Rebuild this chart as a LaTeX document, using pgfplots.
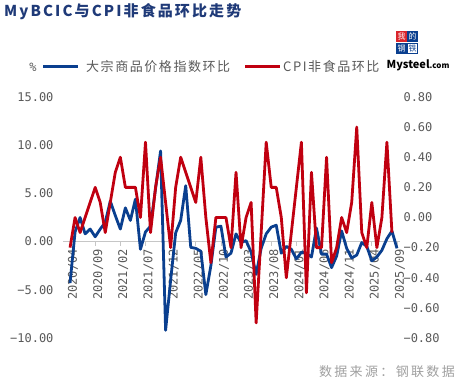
\documentclass[border=0pt]{standalone}
\usepackage{pgfplots}
\pgfplotsset{compat=1.18}
\usepackage{fontspec}
\setmainfont{Noto Sans CJK SC}
\newfontfamily\cjk{Noto Sans CJK SC}
\newfontfamily\cjkt[LetterSpace=14]{Noto Sans CJK SC}
\newfontfamily\cjkl[LetterSpace=12]{Noto Sans CJK SC}
\newfontfamily\cjks[LetterSpace=18]{Noto Sans CJK SC}
\newfontfamily\mono{DejaVu Sans Mono}
\definecolor{bl}{HTML}{0A3F8F}
\definecolor{rd}{HTML}{C00010}
\definecolor{tg}{HTML}{595959}
\definecolor{tt}{HTML}{1F3A78}
\definecolor{lr}{HTML}{D9252B}

\pgfplotstableread{
x y
0 -4.3
1 1.0
2 2.5
3 0.8
4 1.3
5 0.5
6 1.3
7 2.0
8 4.2
9 2.7
10 1.3
11 3.5
12 2.2
13 4.4
14 -0.8
15 1.0
16 1.6
17 5.5
18 9.4
19 -9.2
20 -4.0
21 0.9
22 2.2
23 5.8
24 -0.6
25 -0.7
26 -1.0
27 -5.5
28 -2.5
29 1.5
30 1.6
31 -1.6
32 -1.2
33 0.8
34 -0.1
35 0.1
36 -1.1
37 -3.4
38 -0.7
39 0.8
40 1.5
41 1.7
42 -1.2
43 -0.5
44 -0.8
45 -1.8
46 -1.1
47 -1.2
48 -1.6
49 1.4
50 -1.3
51 -1.3
52 -2.7
53 -1.5
54 1.1
55 -0.7
56 -1.7
57 -1.4
58 -0.1
59 -0.5
60 -2.0
61 -1.6
62 -0.9
63 0.3
64 1.1
65 -0.7
}\bcic

\pgfplotstableread{
x y
0 -0.2
1 0.0
2 -0.1
3 0.0
4 0.1
5 0.2
6 0.1
7 -0.1
8 0.1
9 0.3
10 0.4
11 0.2
12 0.2
13 0.2
14 0.0
15 0.5
16 -0.1
17 0.2
18 0.4
19 0.1
20 -0.2
21 0.2
22 0.4
23 0.3
24 0.2
25 0.1
26 0.4
27 0.0
28 -0.3
29 0.0
30 0.0
31 0.0
32 -0.2
33 0.3
34 -0.2
35 0.0
36 0.1
37 -0.7
38 -0.1
39 0.5
40 0.2
41 0.2
42 0.0
43 -0.4
44 -0.1
45 0.2
46 0.5
47 -0.5
48 0.3
49 -0.2
50 -0.2
51 0.4
52 -0.3
53 -0.2
54 0.0
55 -0.1
56 0.1
57 0.6
58 -0.1
59 -0.2
60 0.1
61 -0.2
62 0.0
63 0.5
64 -0.1
}\cpi

\begin{document}
\begin{tikzpicture}[x=1pt,y=1pt]

% title
\node[anchor=west, inner sep=0, text=tt, font=\cjkt\bfseries\fontsize{15}{15}\selectfont] at (4pt,373pt) {MyBCIC与CPI非食品环比走势};

% legend
\node[anchor=center, inner sep=0, text=tg, font=\mono\fontsize{12}{12}\selectfont] at (33pt,318pt) {\%};
\draw[bl, line width=3pt] (43pt,318pt) -- (78pt,318pt);
\node[anchor=west, inner sep=0, text=tg, font=\cjkl\fontsize{13}{13}\selectfont] at (86pt,318pt) {大宗商品价格指数环比};
\draw[rd, line width=3pt] (245pt,318pt) -- (280pt,318pt);
\node[anchor=west, inner sep=0, text=tg, font=\cjkl\fontsize{13}{13}\selectfont] at (283pt,318pt) {CPI非食品环比};

% logo
\fill[lr] (396pt,354pt) rectangle (407pt,343pt);
\node[inner sep=0, text=white, font=\cjk\fontsize{8}{8}\selectfont] at (401.5pt,348.5pt) {我};
\fill[bl] (407pt,354pt) rectangle (418pt,343pt);
\node[inner sep=0, text=white, font=\cjk\fontsize{8}{8}\selectfont] at (412.5pt,348.5pt) {的};
\fill[bl] (396pt,342pt) rectangle (407pt,331pt);
\node[inner sep=0, text=white, font=\cjk\fontsize{8}{8}\selectfont] at (401.5pt,336.5pt) {钢};
\draw[bl, line width=0.5pt] (407.3pt,341.7pt) rectangle (417.7pt,331.3pt);
\node[inner sep=0, text=bl, font=\cjk\fontsize{8}{8}\selectfont] at (412.5pt,336.5pt) {铁};
\node[anchor=center, inner sep=0, text=black, font=\bfseries] at (418pt,320pt) {{\fontsize{11}{11}\selectfont Mysteel}{\fontsize{8}{8}\selectfont .com}};

% source
\node[anchor=east, inner sep=0, text=gray!75, font=\cjks\fontsize{13}{13}\selectfont] at (455pt,13pt) {数据来源：钢联数据};

\begin{axis}[set layers,
  at={(63pt,47pt)}, anchor=south west, scale only axis,
  width=337pt, height=241pt,
  xmin=-1.4, xmax=65.6, ymin=-10, ymax=15,
  axis x line*=middle, axis y line*=left,
  hide obscured x ticks=false, hide obscured y ticks=false,
  x axis line style={draw=gray!45, line width=0.8pt, -},
  y axis line style={draw=none},
  tick align=outside, major tick length=4pt,
  xtick={0,5,...,65},
  xticklabels={2020/04,2020/09,2021/02,2021/07,2021/12,2022/05,2022/10,2023/03,2023/08,2024/01,2024/06,2024/11,2025/04,2025/09},
  x tick label style={rotate=90, anchor=east, font=\mono\fontsize{12}{12}\selectfont, text=tg, yshift=-3pt},
  x tick style={draw=gray!45, line width=0.8pt},
  ytick={-10,-5,0,5,10,15},
  yticklabels={−10.00,−5.00,0.00,5.00,10.00,15.00},
  y tick label style={font=\mono\fontsize{12}{12}\selectfont, text=tg, xshift=-2pt},
  ytick style={draw=none},
]
\addplot[bl, line width=2.8pt, line join=round] table[x=x,y=y] {\bcic};
\end{axis}

\begin{axis}[set layers,
  at={(63pt,47pt)}, anchor=south west, scale only axis,
  width=337pt, height=241pt,
  xmin=-1.4, xmax=65.6, ymin=-0.8, ymax=0.8,
  hide x axis, axis y line*=right,
  y axis line style={draw=none},
  ytick={-0.8,-0.6,-0.4,-0.2,0,0.2,0.4,0.6,0.8},
  yticklabels={−0.80,−0.60,−0.40,−0.20,0.00,0.20,0.40,0.60,0.80},
  y tick label style={font=\mono\fontsize{12}{12}\selectfont, text=tg, anchor=west},
  ytick style={draw=none},
]
\addplot[rd, line width=2.8pt, line join=round] table[x=x,y=y] {\cpi};
\end{axis}

\path (0pt,0pt) rectangle (459pt,385pt);
\end{tikzpicture}
\end{document}
